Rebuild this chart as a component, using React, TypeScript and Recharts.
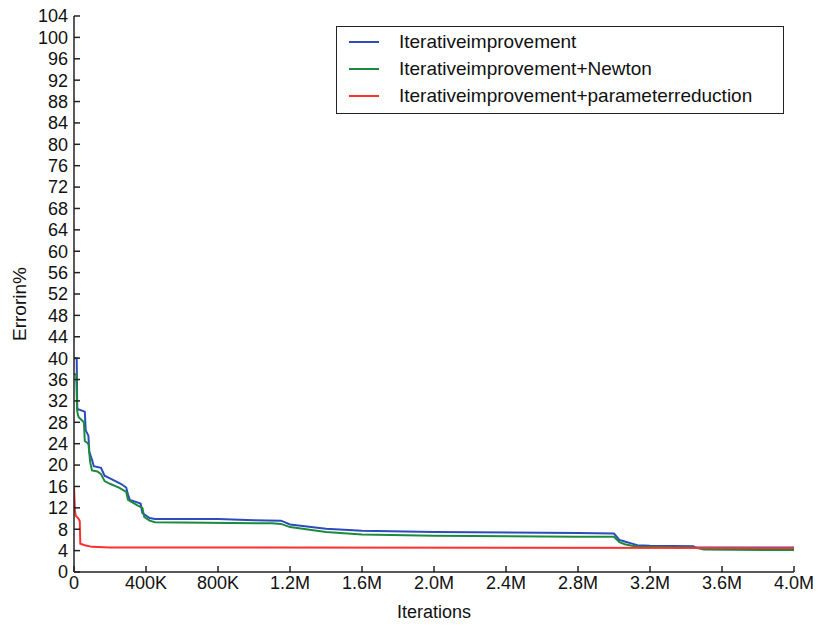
import React from "react";
import { LineChart, Line, XAxis, YAxis, Legend, Label } from "recharts";

const blueIter = [0, 15000, 18000, 60000, 65000, 80000, 85000, 100000, 110000, 150000, 170000, 200000, 230000, 260000, 290000, 300000, 310000, 370000, 380000, 390000, 420000, 450000, 800000, 1000000, 1150000, 1200000, 1400000, 1600000, 2000000, 2800000, 3000000, 3030000, 3060000, 3100000, 3130000, 3200000, 3440000, 3450000, 4000000];
const blueErr = [40, 40, 30.5, 30, 26.5, 25.5, 22.5, 21, 19.8, 19.5, 18, 17.5, 17, 16.5, 15.8, 14.5, 13.5, 12.8, 11, 10.8, 10.1, 9.9, 9.9, 9.7, 9.6, 8.9, 8.1, 7.7, 7.5, 7.3, 7.2, 6.0, 5.7, 5.3, 5.0, 4.9, 4.8, 4.6, 4.6];

const greenIter = [0, 12000, 18000, 25000, 55000, 60000, 80000, 90000, 100000, 130000, 150000, 170000, 200000, 250000, 290000, 300000, 350000, 380000, 390000, 420000, 450000, 1100000, 1150000, 1200000, 1400000, 1600000, 2000000, 2800000, 3000000, 3030000, 3060000, 3100000, 3150000, 3450000, 3500000, 4000000];
const greenErr = [37, 37, 30, 29, 28, 24.5, 24, 20.5, 19, 18.8, 18.3, 17, 16.5, 15.8, 15, 13.5, 12.5, 12, 10.3, 9.6, 9.3, 9.1, 9.0, 8.4, 7.5, 7.0, 6.8, 6.6, 6.6, 5.6, 5.2, 4.9, 4.7, 4.6, 4.2, 4.1];

const redIter = [0, 5000, 10000, 25000, 32000, 35000, 60000, 100000, 200000, 4000000];
const redErr = [16, 11.5, 10.5, 10, 9.5, 5.3, 5.0, 4.7, 4.6, 4.5];

const xTicks = [0, 400000, 800000, 1200000, 1600000, 2000000, 2400000, 2800000, 3200000, 3600000, 4000000];
const xTickLabels = ["0", "400K", "800K", "1.2M", "1.6M", "2.0M", "2.4M", "2.8M", "3.2M", "3.6M", "4.0M"];
const yTicks = [0, 4, 8, 12, 16, 20, 24, 28, 32, 36, 40, 44, 48, 52, 56, 60, 64, 68, 72, 76, 80, 84, 88, 92, 96, 100, 104];

const seriesNames = ["Iterativeimprovement", "Iterativeimprovement+Newton", "Iterativeimprovement+parameterreduction"];
const seriesColors = ["#2a4cbc", "#1b8a3e", "#ff3030"];

const build = (xs: number[], ys: number[]) => xs.map((x, i) => ({ x, y: ys[i] }));
const blueData = build(blueIter, blueErr);
const greenData = build(greenIter, greenErr);
const redData = build(redIter, redErr);

const FONT = "'Liberation Sans', Arial, sans-serif";
const AX = "#222";

const LegendBox = () => (
  <div
    style={{
      position: "absolute",
      left: 336,
      top: 26,
      width: 448,
      height: 88,
      border: "1.5px solid #222",
      background: "#fff",
      boxSizing: "border-box",
      fontFamily: FONT,
      fontSize: 19,
      color: "#111",
    }}
  >
    {seriesNames.map((n, i) => (
      <div key={n} style={{ position: "absolute", left: 12, top: 3 + i * 27, height: 24, display: "flex", alignItems: "center" }}>
        <div style={{ width: 30, height: 2, background: seriesColors[i] }} />
        <span style={{ marginLeft: 20 }}>{n}</span>
      </div>
    ))}
  </div>
);

export default function App() {
  const tickStyle = { fontFamily: FONT, fontSize: 18, fill: "#111" };
  return (
    <div style={{ position: "absolute", left: 0, top: 0, width: 820, height: 626, background: "#fff" }}>
      <LineChart width={820} height={626} margin={{ top: 16, right: 26, bottom: 0, left: 0 }}>
        <XAxis
          xAxisId="b"
          dataKey="x"
          type="number"
          domain={[0, 4000000]}
          ticks={xTicks}
          tickFormatter={(v: number) => xTickLabels[xTicks.indexOf(v)] ?? ""}
          tick={tickStyle}
          tickSize={-6}
          tickMargin={10}
          stroke={AX}
          strokeWidth={1.5}
          height={54}
          allowDataOverflow
        >
          <Label value="Iterations" position="insideBottom" offset={8} style={{ fontFamily: FONT, fontSize: 18, fill: "#111" }} />
        </XAxis>
        <XAxis
          xAxisId="t"
          orientation="top"
          dataKey="x"
          type="number"
          domain={[0, 4000000]}
          ticks={xTicks}
          tick={false}
          tickSize={-6}
          stroke={AX}
          strokeWidth={1.5}
          height={0}
        />
        <YAxis
          yAxisId="l"
          type="number"
          domain={[0, 104]}
          ticks={yTicks}
          interval={0}
          tick={tickStyle}
          tickSize={-6}
          tickMargin={12}
          stroke={AX}
          strokeWidth={1.5}
          width={74}
          allowDataOverflow
        >
          <Label value="Errorin%" angle={-90} position="insideLeft" offset={19} dy={10} style={{ fontFamily: FONT, fontSize: 19, fill: "#111", textAnchor: "middle" }} />
        </YAxis>
        <YAxis
          yAxisId="r"
          orientation="right"
          type="number"
          domain={[0, 104]}
          ticks={yTicks}
          interval={0}
          tick={false}
          tickSize={-6}
          stroke={AX}
          strokeWidth={1.5}
          width={0}
        />
        <Line xAxisId="b" yAxisId="l" data={blueData} dataKey="y" stroke={seriesColors[0]} strokeWidth={2} dot={false} isAnimationActive={false} type="linear" />
        <Line xAxisId="b" yAxisId="l" data={greenData} dataKey="y" stroke={seriesColors[1]} strokeWidth={2} dot={false} isAnimationActive={false} type="linear" />
        <Line xAxisId="b" yAxisId="l" data={redData} dataKey="y" stroke={seriesColors[2]} strokeWidth={2} dot={false} isAnimationActive={false} type="linear" />
        <Legend content={() => <LegendBox />} wrapperStyle={{ position: "absolute", left: 0, top: 0, width: 0, height: 0 }} />
      </LineChart>
    </div>
  );
}
